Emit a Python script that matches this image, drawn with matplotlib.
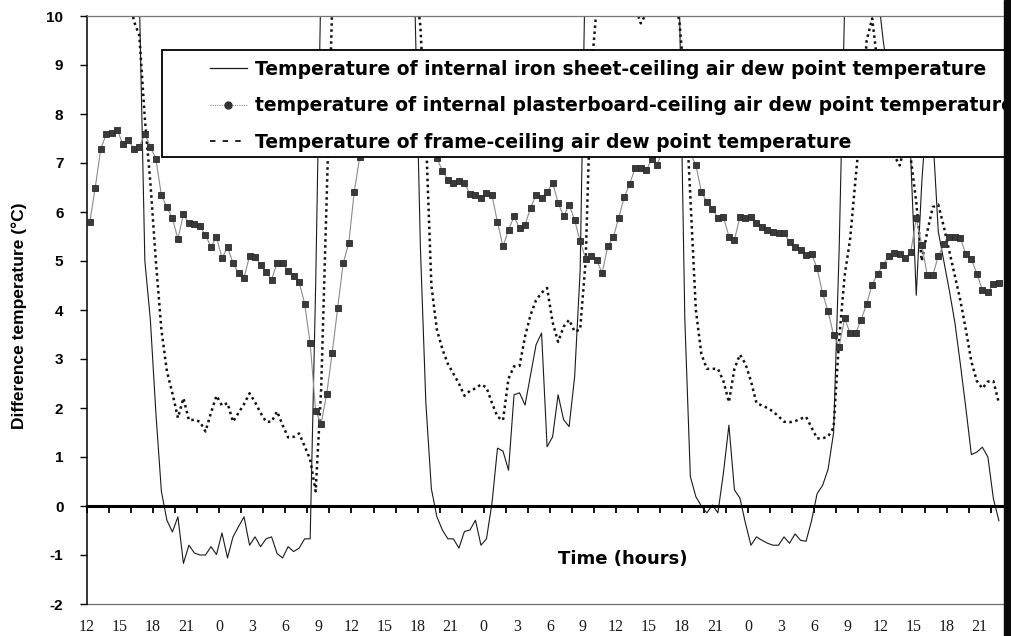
import numpy as np
import matplotlib
matplotlib.use("Agg")
import matplotlib.pyplot as plt
from matplotlib.lines import Line2D
from matplotlib.patches import Rectangle

plt.rcParams["axes.unicode_minus"] = False

# ---------------- data ----------------
# half-hourly samples, hours counted from 12:00 of day 1
time_h = 0.25 + 0.5 * np.arange(166)

iron_sheet = [
    13.5, 14.0, 14.5, 14.8, 15.0, 14.8, 14.3, 13.5, 12.5, 10.4,
    5.0, 3.8, 1.9, 0.3, -0.29, -0.53, -0.22, -1.17, -0.80, -0.96,
    -1.00, -1.00, -0.83, -0.99, -0.55, -1.06, -0.63, -0.42, -0.22, -0.80,
    -0.63, -0.83, -0.67, -0.63, -0.97, -1.06, -0.83, -0.93, -0.86, -0.67,
    -0.67, 4.5, 11.0, 13.0, 14.5, 15.5, 16.0, 16.5, 16.5, 16.0,
    15.5, 15.0, 14.5, 14.0, 13.5, 13.0, 12.5, 12.0, 11.5, 10.3,
    5.3, 2.1, 0.35, -0.22, -0.49, -0.67, -0.67, -0.86, -0.52, -0.49,
    -0.29, -0.80, -0.67, 0.06, 1.18, 1.12, 0.73, 2.27, 2.31, 2.06,
    2.67, 3.29, 3.53, 1.21, 1.41, 2.27, 1.76, 1.62, 2.64, 4.8,
    11.5, 13.5, 15.0, 16.0, 16.5, 16.5, 16.0, 15.5, 15.0, 14.5,
    14.0, 13.5, 13.0, 12.5, 12.0, 11.5, 11.0, 10.4, 3.8, 0.6,
    0.19, 0.0, -0.14, 0.02, -0.14, 0.67, 1.65, 0.33, 0.16, -0.35,
    -0.80, -0.63, -0.70, -0.76, -0.80, -0.80, -0.63, -0.76, -0.57, -0.70,
    -0.72, -0.30, 0.25, 0.42, 0.75, 1.50, 5.2, 10.3, 12.0, 13.0,
    13.0, 12.0, 11.0, 10.5, 9.5, 8.7, 8.3, 8.2, 8.0, 7.1,
    4.3, 6.6, 8.2, 7.6, 5.6, 5.0, 4.4, 3.75, 2.9, 2.0,
    1.05, 1.10, 1.20, 1.00, 0.15, -0.30,
]

plasterboard = [
    5.79, 6.50, 7.29, 7.59, 7.62, 7.68, 7.38, 7.47, 7.29, 7.33,
    7.59, 7.33, 7.09, 6.34, 6.10, 5.87, 5.45, 5.95, 5.77, 5.75,
    5.71, 5.53, 5.29, 5.49, 5.06, 5.28, 4.96, 4.75, 4.66, 5.10,
    5.09, 4.92, 4.78, 4.62, 4.96, 4.96, 4.79, 4.70, 4.57, 4.13,
    3.32, 1.94, 1.68, 2.29, 3.12, 4.05, 4.96, 5.36, 6.41, 7.13,
    7.55, 7.85, 8.05, 8.20, 8.30, 8.30, 8.25, 8.15, 8.00, 7.85,
    7.70, 7.50, 7.30, 7.10, 6.84, 6.66, 6.60, 6.64, 6.60, 6.36,
    6.34, 6.28, 6.38, 6.34, 5.79, 5.30, 5.63, 5.91, 5.67, 5.73,
    6.09, 6.34, 6.29, 6.40, 6.60, 6.19, 5.91, 6.15, 5.84, 5.40,
    5.05, 5.10, 5.02, 4.75, 5.30, 5.48, 5.88, 6.30, 6.58, 6.90,
    6.89, 6.85, 7.08, 6.96, 7.30, 7.50, 7.60, 7.50, 7.35, 7.20,
    6.96, 6.41, 6.21, 6.07, 5.87, 5.90, 5.50, 5.43, 5.90, 5.87,
    5.89, 5.78, 5.70, 5.64, 5.60, 5.57, 5.57, 5.39, 5.29, 5.22,
    5.12, 5.15, 4.85, 4.34, 3.97, 3.49, 3.25, 3.83, 3.53, 3.53,
    3.80, 4.13, 4.52, 4.74, 4.92, 5.10, 5.17, 5.14, 5.06, 5.18,
    5.87, 5.33, 4.71, 4.71, 5.10, 5.34, 5.50, 5.50, 5.47, 5.14,
    5.04, 4.74, 4.41, 4.36, 4.53, 4.55,
]

frame = [
    13.0, 13.5, 13.8, 13.8, 13.5, 12.8, 11.8, 10.6, 9.9, 9.6,
    7.9, 6.6, 5.0, 3.6, 2.75, 2.3, 1.8, 2.2, 1.75, 1.76,
    1.72, 1.52, 1.90, 2.25, 2.05, 2.10, 1.72, 1.90, 2.08, 2.30,
    2.12, 1.90, 1.72, 1.72, 1.93, 1.65, 1.40, 1.41, 1.48, 1.22,
    0.95, 0.30, 2.4, 6.3, 10.2, 12.0, 13.0, 14.0, 14.5, 15.0,
    15.0, 15.0, 14.5, 14.0, 13.5, 13.0, 12.5, 12.0, 11.5, 10.8,
    9.8, 7.6, 4.5, 3.6, 3.2, 2.9, 2.7, 2.5, 2.25, 2.35,
    2.40, 2.48, 2.42, 2.10, 1.82, 1.75, 2.60, 2.85, 2.86, 3.46,
    3.90, 4.20, 4.35, 4.45, 3.75, 3.35, 3.66, 3.80, 3.56, 3.60,
    5.0, 8.8, 10.2, 10.0, 10.05, 10.5, 10.8, 11.0, 10.6, 10.2,
    9.85, 10.05, 10.1, 10.8, 11.5, 11.0, 10.4, 9.9, 8.6, 6.3,
    4.0, 3.1, 2.8, 2.8, 2.8, 2.55, 2.12, 2.8, 3.09, 2.9,
    2.55, 2.10, 2.05, 2.00, 1.93, 1.83, 1.72, 1.71, 1.73, 1.78,
    1.82, 1.60, 1.38, 1.38, 1.42, 1.60, 3.40, 4.70, 5.45, 6.70,
    7.9, 9.5, 9.95, 9.0, 8.3, 7.7, 7.15, 6.95, 7.4, 7.1,
    6.2, 5.0, 5.6, 6.1, 6.15, 5.7, 5.2, 4.7, 4.2, 3.6,
    2.95, 2.55, 2.40, 2.54, 2.55, 2.10,
]

hour_tick_pos = np.arange(0, 82, 3)
hour_tick_labels = ["12", "15", "18", "21", "0", "3", "6", "9"] * 3 + ["12", "15", "18", "21"]

legend_labels = [
    "Temperature of internal iron sheet-ceiling air dew point temperature",
    "temperature of internal plasterboard-ceiling air dew point temperature",
    "Temperature of frame-ceiling air dew point temperature",
]

# ---------------- figure ----------------
W, H = 1012, 636
fig = plt.figure(figsize=(W / 100, H / 100), dpi=100)
fig.patch.set_facecolor("white")
ax = fig.add_axes([87 / W, 32 / H, 916 / W, 588 / H])

ax.plot(time_h, iron_sheet, color="#1a1a1a", lw=0.8, zorder=2)
ax.plot(time_h, plasterboard, color="#8c8c8c", lw=0.8, marker="s", ms=3.8,
        mfc="#3a3a3a", mec="#2a2a2a", mew=0.6, zorder=3)
ax.plot(time_h, frame, color="#111111", lw=1.8, ls=(0, (1, 1.4)), zorder=2)

ax.set_xlim(0, 916 / 11.02)
ax.set_ylim(-2, 10)

# zero line with hanging ticks
ax.spines["bottom"].set_position(("data", 0))
ax.spines["bottom"].set_linewidth(2.2)
ax.spines["bottom"].set_color("black")
ax.set_xticks(np.arange(0, 84, 2))
ax.tick_params(axis="x", direction="out", length=5, width=1.3, colors="black",
               labelbottom=False)
ax.spines["right"].set_visible(False)
ax.spines["top"].set_color("#777777")
ax.spines["top"].set_linewidth(0.9)
ax.spines["top"].set_linestyle((0, (2, 1)))
ax.spines["left"].set_color("black")
ax.spines["left"].set_linewidth(1.1)

ax.set_yticks(np.arange(-2, 11))
ax.tick_params(axis="y", direction="out", length=5, width=1.0, pad=12, labelsize=11)
for lab in ax.get_yticklabels():
    lab.set_fontweight("bold")
    lab.set_fontfamily("Liberation Sans")

# bottom frame with the time labels
sec = ax.secondary_xaxis("bottom")
sec.set_xticks(hour_tick_pos, labels=hour_tick_labels)
sec.tick_params(length=0, pad=11, labelsize=11.5, colors="#1a1a1a")
for lab in sec.get_xticklabels():
    lab.set_fontfamily("Liberation Serif")
sec.spines["bottom"].set_color("#6f6f6f")
sec.spines["bottom"].set_linewidth(0.9)

ax.set_ylabel("Difference temperature (°C)", fontsize=12.5, fontweight="bold",
              family="Liberation Sans")
ax.yaxis.set_label_coords((27 - 87) / 916, 0.49)
ax.set_xlabel("Time (hours)", fontsize=13, fontweight="bold", family="DejaVu Sans")
ax.xaxis.set_label_coords((623 - 87) / 916, (604 - 550) / 588)

# legend box + legend
rect = Rectangle((162 / W, 1 - 157 / H), (1040 - 162) / W, 107 / H,
                 transform=fig.transFigure, facecolor="white", edgecolor="black",
                 lw=1.3, zorder=4, clip_on=False)
ax.add_artist(rect)
F = 13.5 * 100 / 72
handles = [
    Line2D([], [], color="#1a1a1a", lw=0.9),
    Line2D([], [], color="#8c8c8c", lw=0.8, ls=(0, (1, 1)), marker="o", ms=5,
           mfc="#333333", mec="#333333"),
    Line2D([], [], color="#111111", lw=1.3, ls=(0, (3, 4))),
]
leg = ax.legend(handles, legend_labels, loc="upper left",
                bbox_to_anchor=((210 - 87) / 916, (604 - 60) / 588),
                borderaxespad=0, borderpad=0, frameon=False,
                handlelength=37 / F, handletextpad=8 / F, labelspacing=0.92,
                prop=dict(family="DejaVu Sans", weight="bold", size=13.5))
leg.set_zorder(5)

# dark scan edge on the right
fig.add_artist(Rectangle((1004 / W, 0), 8 / W, 1, transform=fig.transFigure,
                         color="#0a0a0a", zorder=10))

fig.savefig("out.png", dpi=100, facecolor="white")
